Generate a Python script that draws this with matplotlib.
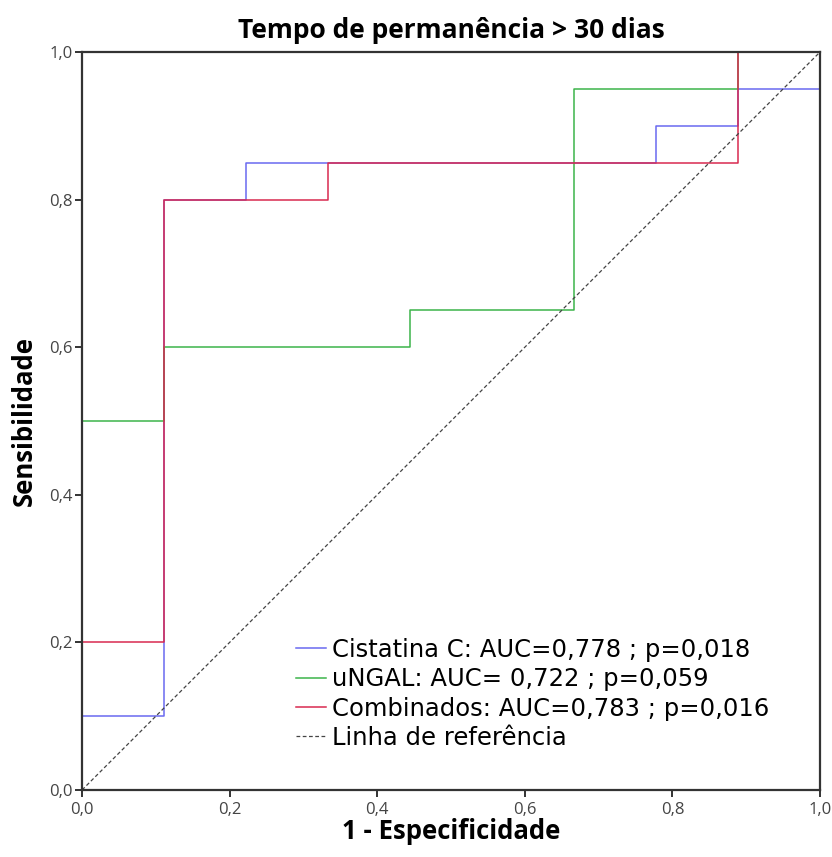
import matplotlib
matplotlib.use("Agg")
import matplotlib.pyplot as plt
from matplotlib.ticker import FuncFormatter

# ROC step points (1 - especificidade, sensibilidade)
cist_x = [0, 0, 1/9, 1/9, 2/9, 2/9, 7/9, 7/9, 8/9, 8/9, 1, 1]
cist_y = [0, 0.10, 0.10, 0.80, 0.80, 0.85, 0.85, 0.90, 0.90, 0.95, 0.95, 1.0]

ngal_x = [0, 0, 1/9, 1/9, 4/9, 4/9, 6/9, 6/9, 8/9, 8/9, 1]
ngal_y = [0, 0.50, 0.50, 0.60, 0.60, 0.65, 0.65, 0.95, 0.95, 1.0, 1.0]

comb_x = [0, 0, 1/9, 1/9, 3/9, 3/9, 8/9, 8/9, 1]
comb_y = [0, 0.20, 0.20, 0.80, 0.80, 0.85, 0.85, 1.0, 1.0]

labels = [
    "Cistatina C: AUC=0,778 ; p=0,018",
    "uNGAL: AUC= 0,722 ; p=0,059",
    "Combinados: AUC=0,783 ; p=0,016",
    "Linha de referência",
]
ticks = [0, 0.2, 0.4, 0.6, 0.8, 1.0]

plt.rcParams["font.family"] = ["Open Sans", "DejaVu Sans"]

fig = plt.figure(figsize=(8.32, 8.57), dpi=100)
ax = fig.add_axes([0.0986, 0.0782, 0.887, 0.8611])

ax.plot(cist_x, cist_y, color="#6a6af0", lw=1.1, label=labels[0])
ax.plot(ngal_x, ngal_y, color="#3cb44a", lw=1.1, label=labels[1])
ax.plot(comb_x, comb_y, color="#d8294f", lw=1.1, label=labels[2])
ax.plot([0, 1], [0, 1], color="#444444", lw=0.9, ls=(0, (3, 2)), label=labels[3])

ax.set_xlim(0, 1)
ax.set_ylim(0, 1)
ax.set_xticks(ticks)
ax.set_yticks(ticks)
fmt = FuncFormatter(lambda v, p: f"{v:.1f}".replace(".", ","))
ax.xaxis.set_major_formatter(fmt)
ax.yaxis.set_major_formatter(fmt)
ax.tick_params(direction="out", length=5, width=1.4, labelsize=12,
               labelcolor="#444444", color="#333333")
ax.tick_params(axis="x", pad=4)
ax.tick_params(axis="y", pad=2)
for s in ax.spines.values():
    s.set_color("#333333")
    s.set_linewidth(1.6)

ax.set_title("Tempo de permanência > 30 dias", fontsize=19,
             fontweight="bold", pad=10)
ax.set_xlabel("1 - Especificidade", fontsize=18.5, fontweight="bold",
              labelpad=0)
ax.set_ylabel("Sensibilidade", fontsize=18.5, fontweight="bold", labelpad=8)

ax.legend(loc="lower right", bbox_to_anchor=(0.945, 0.041), frameon=False,
          prop={"family": "DejaVu Sans", "size": 17.5},
          handlelength=1.25, handletextpad=0.25,
          labelspacing=0.22, borderaxespad=0)

fig.savefig("out.png", dpi=100)
